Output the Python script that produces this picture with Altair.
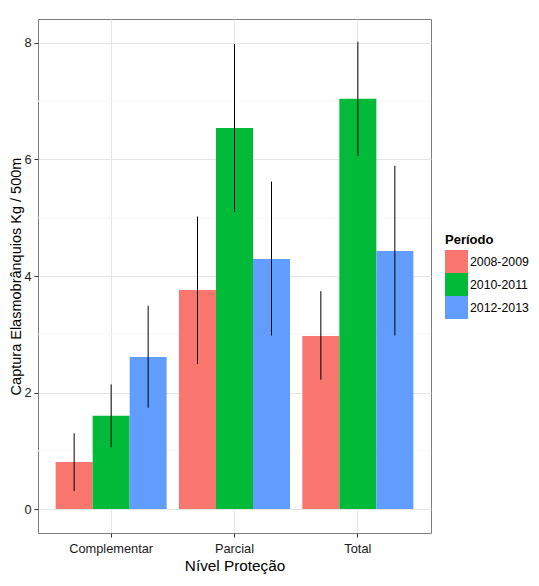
import altair as alt
import pandas as pd

niveis = ["Complementar", "Parcial", "Total"]
periodos = ["2008-2009", "2010-2011", "2012-2013"]
media = [0.81, 1.60, 2.61, 3.76, 6.54, 4.29, 2.97, 7.04, 4.43]
erro_min = [0.31, 1.06, 1.74, 2.49, 5.10, 2.98, 2.22, 6.06, 2.98]
erro_max = [1.30, 2.14, 3.49, 5.02, 7.98, 5.62, 3.74, 8.02, 5.89]
cores = ["#F8766D", "#00BA38", "#619CFF"]
grade_menor = [1, 3, 5, 7]

rows = []
i = 0
for n in niveis:
    for p in periodos:
        rows.append({"nivel": n, "periodo": p, "media": media[i],
                     "lo": erro_min[i], "hi": erro_max[i]})
        i += 1
df = pd.DataFrame(rows)
df_minor = pd.DataFrame({"y": grade_menor})

font = "Liberation Sans"
ytitle = "Captura Elasmobrânquios Kg / 500m"

x_enc = alt.X("nivel:N", sort=niveis, title="Nível Proteção",
              scale=alt.Scale(paddingInner=0.1, paddingOuter=0.143),
              axis=alt.Axis(labelAngle=0, grid=True, gridColor="#e5e5e5",
                            tickColor="#333333", tickSize=4, labelColor="#1a1a1a",
                            labelFontSize=12.8, labelPadding=5, titleFontSize=15.3,
                            titleFontWeight="normal", titlePadding=4, domain=False,
                            labelFont=font, titleFont=font))
y_scale = alt.Scale(domain=[-0.41, 8.41], nice=False, zero=False)
y_axis = alt.Axis(values=[0, 2, 4, 6, 8], format="d", grid=True, gridColor="#e5e5e5",
                  tickColor="#333333", tickSize=4, labelColor="#1a1a1a",
                  labelFontSize=12.8, labelPadding=3, titleFontSize=14.5,
                  titleFontWeight="normal", titleX=-15, titleY=257,
                  titleAngle=270, titleBaseline="bottom", titleAlign="center",
                  domain=False, labelFont=font, titleFont=font)

minor = alt.Chart(df_minor).mark_rule(color="#f7f7f7", strokeWidth=1).encode(
    y=alt.Y("y:Q", scale=y_scale, axis=y_axis, title=ytitle)
)

bars = alt.Chart(df).mark_bar(size=37).encode(
    x=x_enc,
    xOffset=alt.XOffset("periodo:N", sort=periodos),
    y=alt.Y("media:Q", scale=y_scale, axis=y_axis, title=ytitle),
    color=alt.Color("periodo:N", sort=periodos, title="Período",
                    scale=alt.Scale(domain=periodos, range=cores),
                    legend=alt.Legend(orient="none", legendX=407, legendY=215,
                                      symbolType="square", symbolSize=529,
                                      symbolStrokeWidth=0, rowPadding=0,
                                      labelFontSize=12.3, labelFont=font,
                                      titleFontSize=13, titleFont=font,
                                      titleFontWeight="bold", titlePadding=3,
                                      labelOffset=2, symbolOpacity=1)),
)

errs = alt.Chart(df).mark_rule(color="black", strokeWidth=1).encode(
    x=alt.X("nivel:N", sort=niveis),
    xOffset=alt.XOffset("periodo:N", sort=periodos),
    y=alt.Y("lo:Q", scale=y_scale),
    y2="hi:Q",
)

chart = alt.layer(minor, bars, errs).properties(
    width=393, height=514,
    autosize=alt.AutoSizeParams(type="none"),
    padding={"left": 30, "top": 11, "right": 100, "bottom": 45},
).configure_view(stroke="#7f7f7f", strokeWidth=1).configure_scale(
    offsetBandPaddingInner=0, offsetBandPaddingOuter=0
)

chart.save("out.html", embed_options={"renderer": "svg", "actions": False})
